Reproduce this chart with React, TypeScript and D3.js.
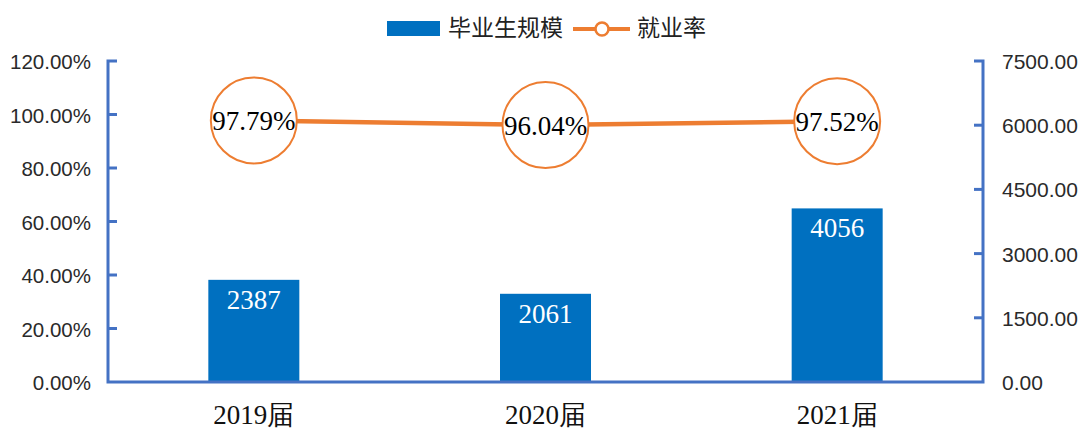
import React from "react";
import * as d3 from "d3";

const categories = ["2019届", "2020届", "2021届"];
const graduates = [2387, 2061, 4056];
const employmentRate = [0.9779, 0.9604, 0.9752];
const leftTicks = [0, 0.2, 0.4, 0.6, 0.8, 1.0, 1.2];
const rightTicks = [0, 1500, 3000, 4500, 6000, 7500];

const W = 1084;
const H = 430;
const left = 108;
const right = 983;
const top = 61;
const bottom = 382;

const BLUE = "#0070C0";
const ORANGE = "#ED7D31";
const AXIS = "#4472C4";
const SANS = "'Liberation Sans', Arial, sans-serif";
const SERIF = "'Liberation Serif', 'Times New Roman', serif";
const CJK = "'Noto Sans CJK SC', sans-serif";

export default function App() {
  const x = d3.scaleBand<string>().domain(categories).range([left, right]).paddingInner(0.688).paddingOuter(0.344);
  const yL = d3.scaleLinear().domain([0, 1.2]).range([bottom, top]);
  const yR = d3.scaleLinear().domain([0, 7500]).range([bottom, top]);
  const cx = (c: string) => (x(c) as number) + x.bandwidth() / 2;
  const line = d3
    .line<number>()
    .x((_, i) => cx(categories[i]))
    .y((d) => yL(d));

  return (
    <svg width={W} height={H} style={{ position: "absolute", left: 0, top: 0, background: "#fff" }}>
      {/* legend */}
      <rect x={387} y={21} width={53} height={15} fill={BLUE} />
      <text x={448} y={36} fontFamily={CJK} fontSize={23} fill="#222">毕业生规模</text>
      <line x1={573} x2={630} y1={29} y2={29} stroke={ORANGE} strokeWidth={4} />
      <circle cx={602} cy={29} r={6.5} fill="#fff" stroke={ORANGE} strokeWidth={2.5} />
      <text x={637} y={36} fontFamily={CJK} fontSize={23} fill="#222">就业率</text>

      {/* bars */}
      {graduates.map((v, i) => (
        <g key={categories[i]}>
          <rect x={x(categories[i])} y={yR(v)} width={x.bandwidth()} height={bottom - yR(v)} fill={BLUE} />
          <text x={cx(categories[i])} y={yR(v) + 29} textAnchor="middle" fontFamily={SERIF} fontSize={27} fill="#fff">
            {v}
          </text>
        </g>
      ))}

      {/* axes */}
      <g stroke={AXIS} strokeWidth={3} fill="none">
        <path d={`M${left + 9},${top} H${left} V${bottom} H${right} V${top} H${right - 9}`} />
        {leftTicks.slice(1, -1).map((t) => (
          <line key={t} x1={left} x2={left + 9} y1={yL(t)} y2={yL(t)} />
        ))}
        {rightTicks.slice(1, -1).map((t) => (
          <line key={t} x1={right} x2={right - 9} y1={yR(t)} y2={yR(t)} />
        ))}
      </g>
      {leftTicks.map((t) => (
        <text key={t} x={91} y={yL(t) + 8} textAnchor="end" fontFamily={SANS} fontSize={20.5} fill="#2a2a2a">
          {(t * 100).toFixed(2)}%
        </text>
      ))}
      {rightTicks.map((t) => (
        <text key={t} x={1002} y={yR(t) + 8} fontFamily={SANS} fontSize={21} fill="#2a2a2a">
          {t.toFixed(2)}
        </text>
      ))}
      {categories.map((c) => (
        <text key={c} x={cx(c)} y={424} textAnchor="middle" fontFamily={SERIF} fontSize={27} fill="#111">
          {c}
        </text>
      ))}

      {/* line */}
      <path d={line(employmentRate) || ""} fill="none" stroke={ORANGE} strokeWidth={4.5} />
      {employmentRate.map((v, i) => (
        <g key={i}>
          <circle cx={cx(categories[i])} cy={yL(v)} r={43} fill="#fff" stroke={ORANGE} strokeWidth={2} />
          <text x={cx(categories[i])} y={yL(v) + 10} textAnchor="middle" fontFamily={SERIF} fontSize={27} fill="#000">
            {(v * 100).toFixed(2)}%
          </text>
        </g>
      ))}
    </svg>
  );
}
